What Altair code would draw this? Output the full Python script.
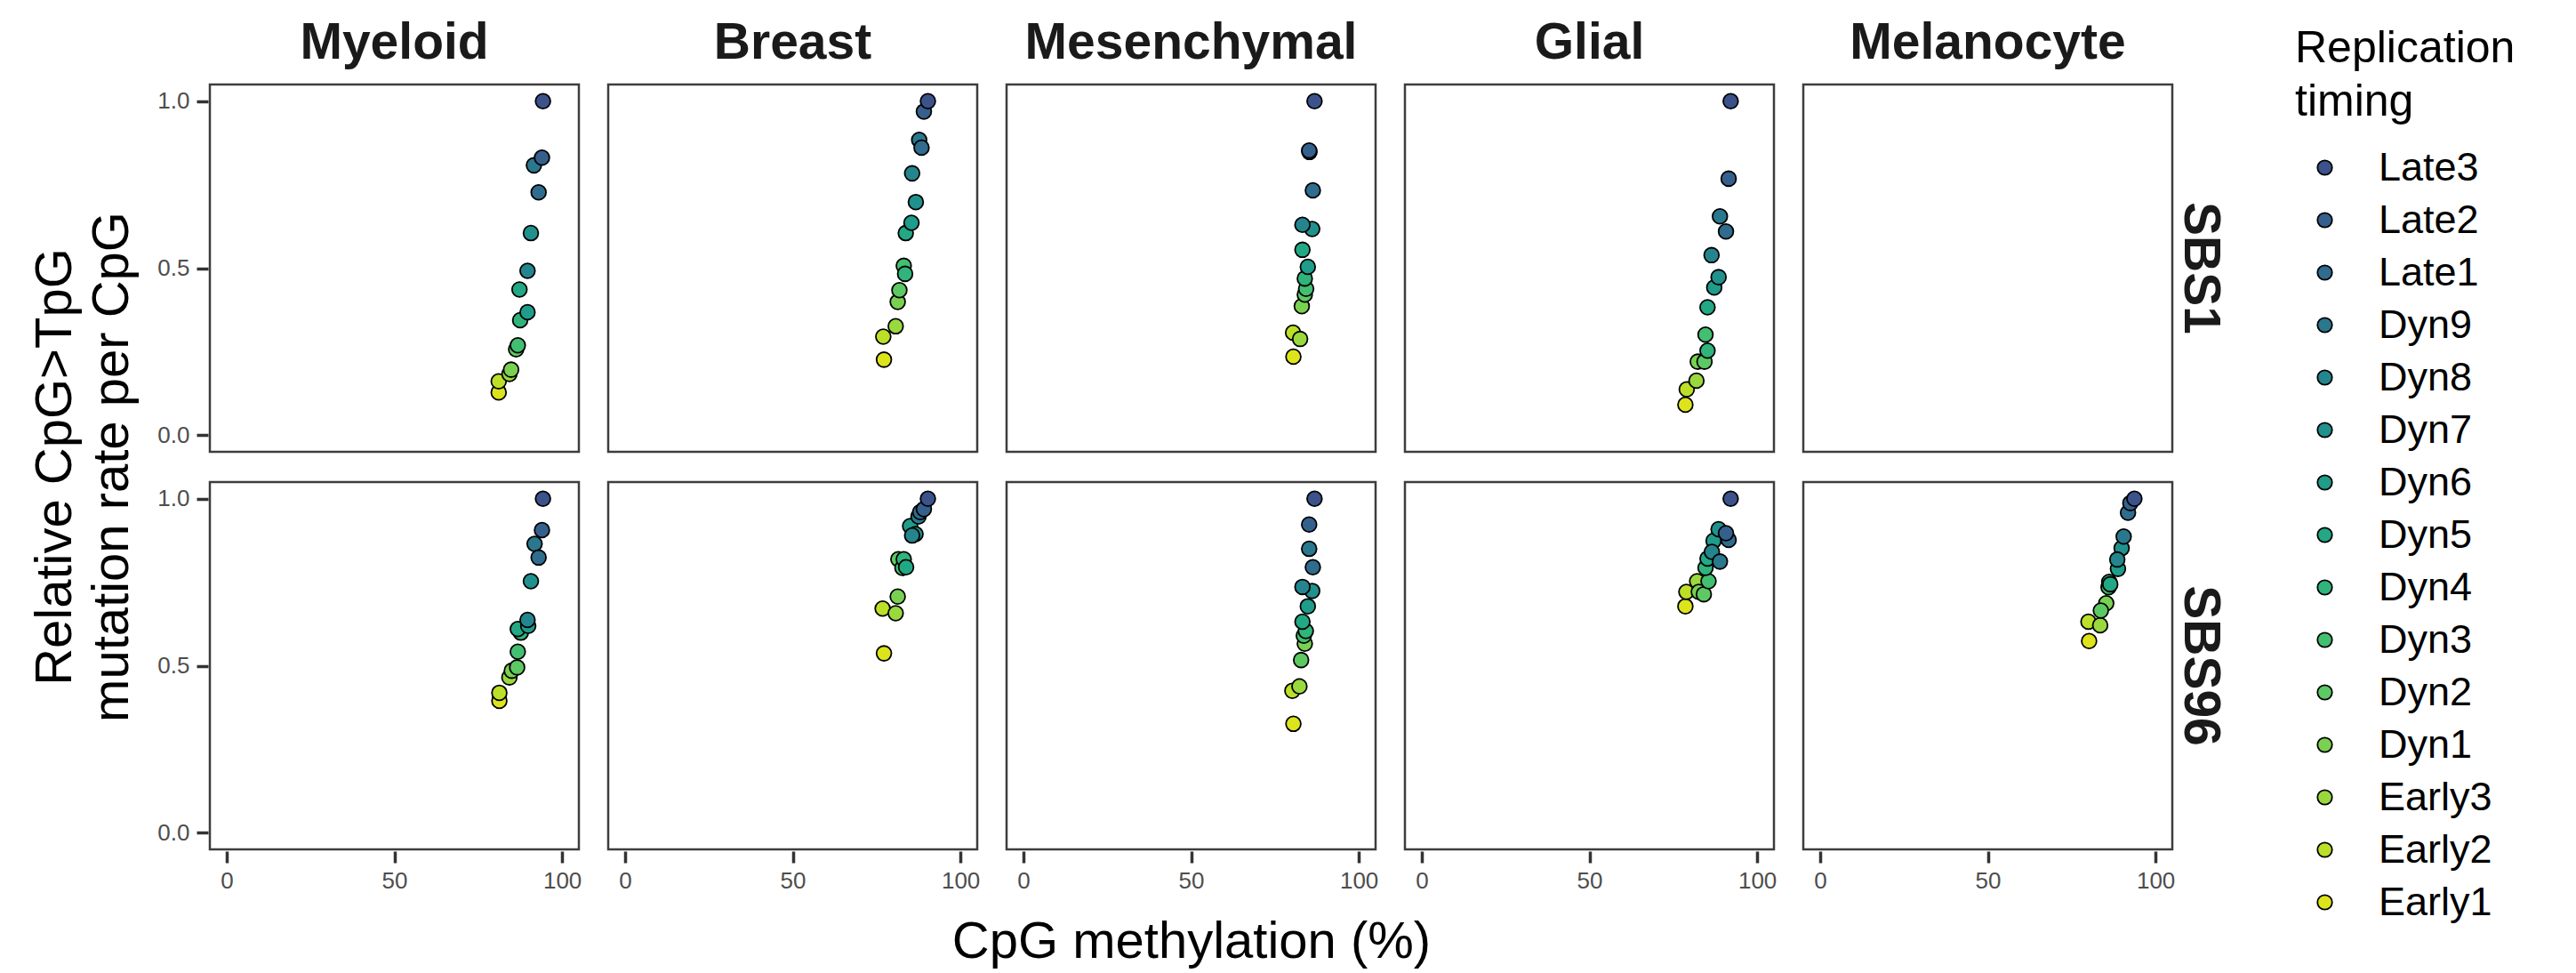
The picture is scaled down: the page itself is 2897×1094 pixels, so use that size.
import json
import altair as alt
import pandas as pd

FONT = "Liberation Sans"

tissues = ["Myeloid", "Breast", "Mesenchymal", "Glial", "Melanocyte"]
signatures = ["SBS1", "SBS96"]
timing = ["Late3", "Late2", "Late1", "Dyn9", "Dyn8", "Dyn7", "Dyn6", "Dyn5",
          "Dyn4", "Dyn3", "Dyn2", "Dyn1", "Early3", "Early2", "Early1"]

# values listed in the order of `timing`
myeloid_sbs1_x = [94.3, 94.0, 93.0, 91.6, 89.7, 90.7, 89.7, 87.3, 87.5, 86.8, 86.3, 84.8, 84.3, 81.1, 81.1]
myeloid_sbs1_y = [1.000, 0.831, 0.727, 0.808, 0.492, 0.605, 0.368, 0.436, 0.344, 0.269, 0.257, 0.196, 0.183, 0.161, 0.128]

breast_sbs1_x = [90.3, 89.1, 88.4, 87.7, 85.6, 86.7, 85.4, 83.7, 83.5, 83.1, 81.8, 81.3, 80.7, 77.0, 77.2]
breast_sbs1_y = [1.000, 0.969, 0.861, 0.884, 0.784, 0.698, 0.636, 0.605, 0.483, 0.507, 0.434, 0.399, 0.326, 0.295, 0.226]

mesenchymal_sbs1_x = [86.8, 85.2, 86.3, 85.3, 83.2, 86.1, 84.8, 83.2, 83.9, 84.3, 83.9, 83.0, 82.5, 80.4, 80.5]
mesenchymal_sbs1_y = [1.000, 0.852, 0.733, 0.848, 0.630, 0.617, 0.504, 0.555, 0.469, 0.438, 0.421, 0.386, 0.288, 0.307, 0.235]

glial_sbs1_x = [92.1, 91.5, 90.7, 88.9, 86.4, 88.5, 87.2, 85.2, 85.2, 84.6, 84.3, 82.3, 81.9, 79.0, 78.6]
glial_sbs1_y = [1.000, 0.768, 0.610, 0.655, 0.539, 0.473, 0.442, 0.383, 0.253, 0.301, 0.220, 0.220, 0.163, 0.137, 0.091]

myeloid_sbs96_x = [94.3, 94.0, 93.0, 91.8, 89.7, 90.7, 89.9, 86.8, 87.7, 86.8, 86.6, 85.0, 84.3, 81.3, 81.3]
myeloid_sbs96_y = [1.000, 0.906, 0.824, 0.865, 0.637, 0.753, 0.619, 0.610, 0.599, 0.542, 0.495, 0.485, 0.465, 0.419, 0.395]

breast_sbs96_x = [90.3, 89.1, 88.0, 87.5, 85.6, 86.6, 85.0, 83.8, 83.1, 82.7, 81.5, 81.3, 80.7, 76.8, 77.2]
breast_sbs96_y = [1.000, 0.969, 0.960, 0.947, 0.890, 0.894, 0.918, 0.795, 0.819, 0.793, 0.819, 0.707, 0.657, 0.671, 0.537]

mesenchymal_sbs96_x = [86.8, 85.2, 86.3, 85.2, 83.2, 86.1, 84.8, 83.2, 84.2, 83.6, 82.8, 83.9, 82.3, 80.2, 80.5]
mesenchymal_sbs96_y = [1.000, 0.923, 0.795, 0.850, 0.736, 0.724, 0.678, 0.632, 0.604, 0.590, 0.517, 0.566, 0.438, 0.425, 0.326]

glial_sbs96_x = [92.1, 90.7, 91.5, 88.9, 86.5, 88.5, 87.0, 85.2, 84.6, 85.5, 84.1, 82.6, 82.1, 78.9, 78.6]
glial_sbs96_y = [1.000, 0.897, 0.877, 0.812, 0.841, 0.909, 0.874, 0.821, 0.793, 0.753, 0.714, 0.721, 0.753, 0.721, 0.678]

melanocyte_sbs96_x = [93.7, 92.5, 91.8, 90.5, 88.6, 89.9, 88.8, 86.5, 86.2, 86.0, 83.7, 85.3, 83.5, 80.0, 80.2]
melanocyte_sbs96_y = [1.000, 0.987, 0.958, 0.887, 0.818, 0.852, 0.790, 0.744, 0.751, 0.735, 0.665, 0.687, 0.621, 0.632, 0.574]

series = [
    ("Myeloid", "SBS1", myeloid_sbs1_x, myeloid_sbs1_y),
    ("Breast", "SBS1", breast_sbs1_x, breast_sbs1_y),
    ("Mesenchymal", "SBS1", mesenchymal_sbs1_x, mesenchymal_sbs1_y),
    ("Glial", "SBS1", glial_sbs1_x, glial_sbs1_y),
    ("Myeloid", "SBS96", myeloid_sbs96_x, myeloid_sbs96_y),
    ("Breast", "SBS96", breast_sbs96_x, breast_sbs96_y),
    ("Mesenchymal", "SBS96", mesenchymal_sbs96_x, mesenchymal_sbs96_y),
    ("Glial", "SBS96", glial_sbs96_x, glial_sbs96_y),
    ("Melanocyte", "SBS96", melanocyte_sbs96_x, melanocyte_sbs96_y),
]

records = []
for tissue, sig, xs, ys in series:
    for i, (t, xv, yv) in enumerate(zip(timing, xs, ys)):
        records.append({"col": tissues.index(tissue), "row": signatures.index(sig),
                        "timing": t, "methylation": xv, "rate": yv,
                        "draw": len(timing) - i})
df = pd.DataFrame(records)

axis_common = dict(grid=False, domain=False, labelFont=FONT, labelFontSize=26,
                   labelColor="#4d4d4d", tickColor="#333333", tickWidth=3.5,
                   tickSize=13, title=None)

points = alt.Chart(df).mark_circle(
    size=280, opacity=1, stroke="black", strokeWidth=1.8
).encode(
    x=alt.X("methylation:Q",
            scale=alt.Scale(domain=[-5, 105], nice=False, zero=False),
            axis=alt.Axis(values=[0, 50, 100], format="d", labelPadding=7, **axis_common)),
    y=alt.Y("rate:Q",
            scale=alt.Scale(domain=[-0.05, 1.05], nice=False, zero=False),
            axis=alt.Axis(values=[0, 0.5, 1.0], format=".1f", labelPadding=8, **axis_common)),
    color=alt.Color("timing:N", sort=timing,
                    scale=alt.Scale(domain=timing,
                                    scheme=alt.SchemeParams(name="viridis", extent=[0.2, 1.0])),
                    legend=alt.Legend(title=["Replication", "timing"], orient="none",
                                      legendX=2345, legendY=-65,
                                      titleFont=FONT, titleLimit=600,
                                      titleFontSize=50, titleFontWeight="normal",
                                      titleColor="black", titleLineHeight=60,
                                      titlePadding=26, labelFont=FONT, labelFontSize=45,
                                      labelColor="black", labelOffset=38, symbolOffset=11,
                                      symbolSize=270, symbolStrokeColor="black",
                                      symbolStrokeWidth=1.8, rowPadding=13)),
    order=alt.Order("draw:Q"),
).properties(width=415, height=413)

col_expr = json.dumps(tissues) + "[datum.value]"
row_expr = json.dumps(signatures) + "[datum.value]"

chart = points.facet(
    column=alt.Column("col:O",
                      header=alt.Header(title="CpG methylation (%)", titleOrient="bottom",
                                        labelOrient="top", labelExpr=col_expr,
                                        labelFont=FONT, labelFontSize=57,
                                        labelFontWeight="bold", labelColor="#1a1a1a",
                                        labelPadding=15, titleFont=FONT, titleFontSize=58,
                                        titleFontWeight="normal", titleColor="black",
                                        titlePadding=18)),
    row=alt.Row("row:O",
                header=alt.Header(title=["Relative CpG>TpG", "mutation rate per CpG"],
                                  titleOrient="left", labelOrient="right", labelAngle=90,
                                  labelExpr=row_expr,
                                  labelFont=FONT, labelFontSize=57, labelFontWeight="bold",
                                  labelColor="#1a1a1a", labelPadding=0, titleFont=FONT,
                                  titleFontSize=58, titleFontWeight="normal",
                                  titleColor="black", titleLineHeight=64, titlePadding=10)),
    spacing=alt.RowColnumber(row=30, column=29),
).properties(
    padding={"left": 25, "top": 12, "right": 5, "bottom": 0},
    background="white",
).configure_view(
    stroke="#3d3d3d", strokeWidth=2.5
)

chart.save("out.html", embed_options={"renderer": "svg", "actions": False})
